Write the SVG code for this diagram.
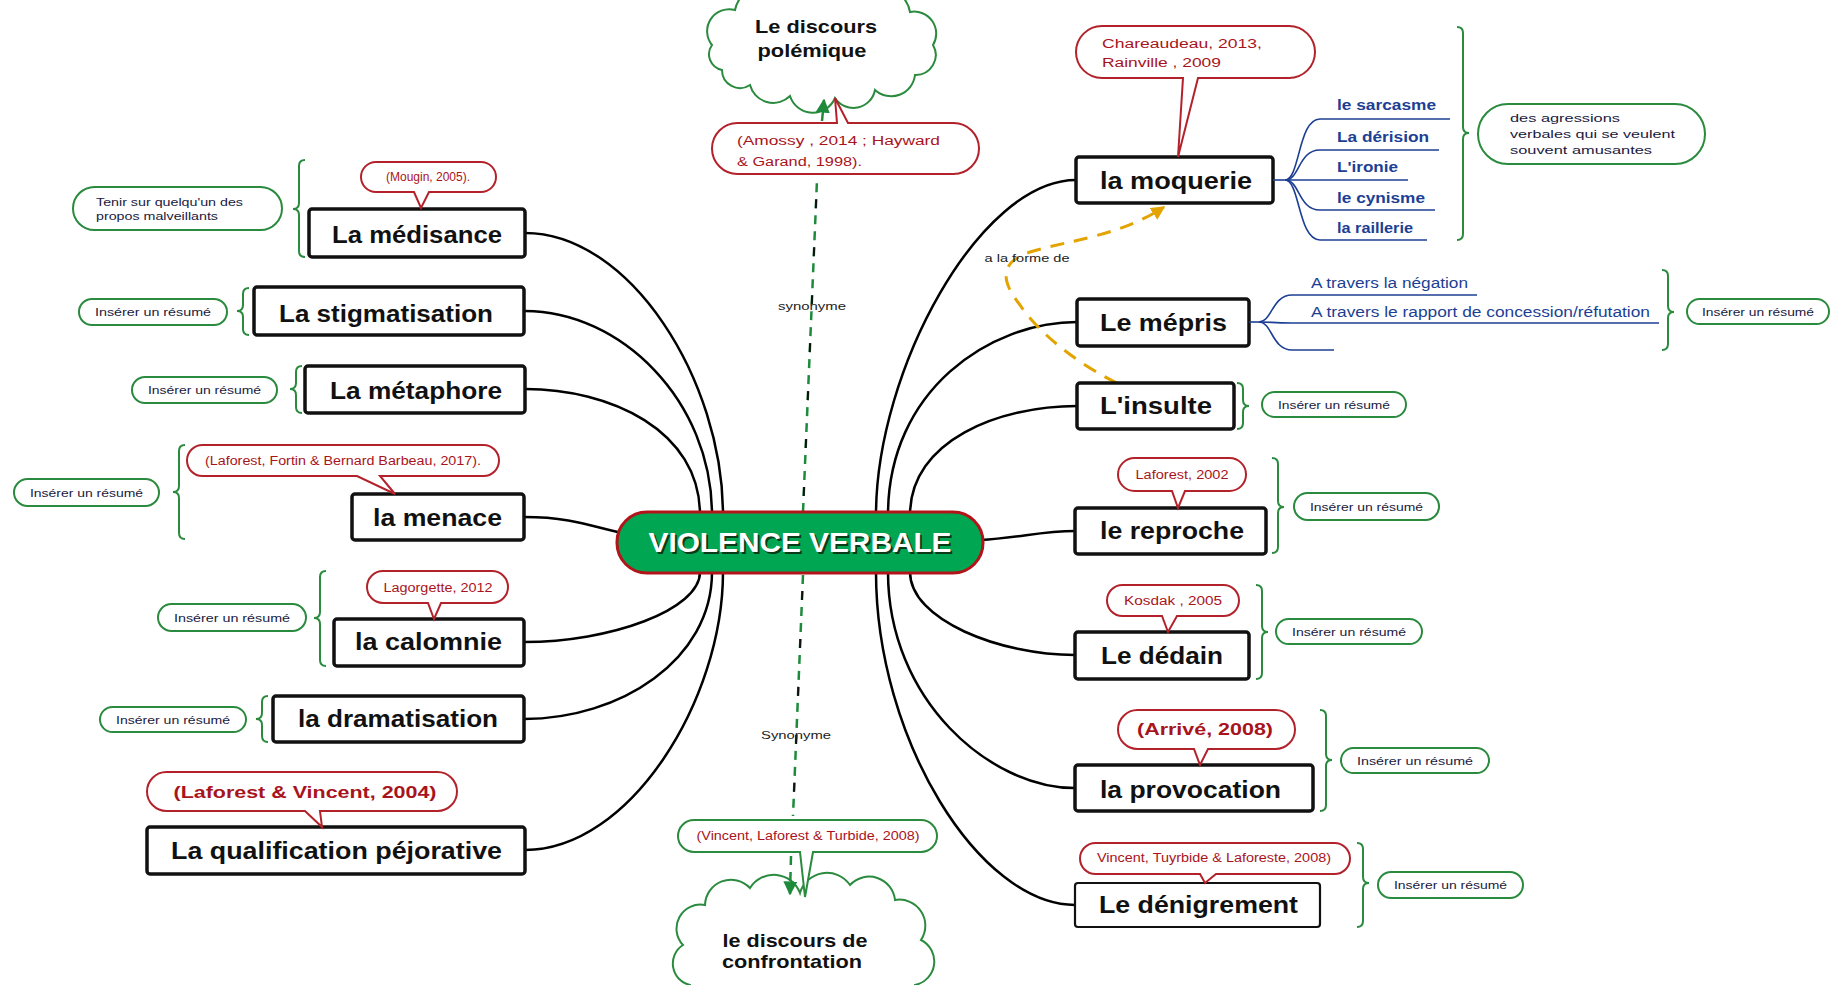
<svg xmlns="http://www.w3.org/2000/svg" width="1831" height="985" viewBox="0 0 1831 985">
<style>
.box{fill:#fff;stroke:#111;stroke-width:3.5}
.nt{font-family:"Liberation Sans",Arial,sans-serif;font-weight:bold;font-size:23px;fill:#111}
.con{fill:none;stroke:#000;stroke-width:2.5}
.dg{fill:none;stroke:#1e8a3c;stroke-width:2.5;stroke-dasharray:9 7}
.dk{fill:none;stroke:#111;stroke-width:2;stroke-dasharray:9 39}
.call{fill:#fff;stroke:#b3222a;stroke-width:2}
.callg{fill:#fff;stroke:#2a8a3e;stroke-width:2}
.ct{font-family:"Liberation Sans",Arial,sans-serif;font-size:12px;fill:#a8141c}
.ctb{font-family:"Liberation Sans",Arial,sans-serif;font-size:17px;font-weight:bold;fill:#a8141c}
.pill{fill:#fff;stroke:#2a8a3e;stroke-width:2}
.pt{font-family:"Liberation Sans",Arial,sans-serif;font-size:11px;fill:#1a1a40}
.brace{fill:none;stroke:#2a8a3e;stroke-width:2}
.blue{fill:none;stroke:#1c3f94;stroke-width:1.6}
.bt{font-family:"Liberation Sans",Arial,sans-serif;font-size:14px;font-weight:bold;fill:#1c3f94}
.bt2{font-family:"Liberation Sans",Arial,sans-serif;font-size:14px;fill:#1c3f94}
.cloud{fill:#fff;stroke:#2a8a3e;stroke-width:2}
.clt{font-family:"Liberation Sans",Arial,sans-serif;font-size:19px;font-weight:bold;fill:#111;text-anchor:middle}
.lbl{font-family:"Liberation Sans",Arial,sans-serif;font-size:11px;fill:#222}
</style>
<defs>
<marker id="ag" viewBox="0 0 10 10" refX="9" refY="5" markerWidth="14" markerHeight="14" markerUnits="userSpaceOnUse" orient="auto"><path d="M0,0 L10,5 L0,10 Z" fill="#1e8a3c"/></marker>
<marker id="ao" viewBox="0 0 10 10" refX="9" refY="5" markerWidth="14" markerHeight="14" markerUnits="userSpaceOnUse" orient="auto"><path d="M0,0 L10,5 L0,10 Z" fill="#e3a300"/></marker>
</defs>
<rect width="1831" height="985" fill="#fff"/>

<g id="cloud-polemique">
<path class="cloud" d="M712,45 A22,22 0 0 1 735,10 A32,32 0 0 1 790,-5 A38,38 0 0 1 860,-5 A30,30 0 0 1 910,12 A22,22 0 0 1 933,45 A20,20 0 0 1 915,75 A24,24 0 0 1 875,90 A22,22 0 0 1 835,98 A24,24 0 0 1 790,96 A24,24 0 0 1 750,85 A18,18 0 0 1 722,70 A16,16 0 0 1 712,45 Z"/>
<text class="clt" x="816" y="33" textLength="122" lengthAdjust="spacingAndGlyphs">Le discours</text>
<text class="clt" x="812" y="57" textLength="109" lengthAdjust="spacingAndGlyphs">polémique</text>
</g>
<g id="callout-amossy">
<path class="call" d="M737.5,123 H837 L835,98 L848,123 H953.5 A25.5,25.5 0 0 1 953.5,174 H737.5 A25.5,25.5 0 0 1 737.5,123 Z"/>
<text class="ct" x="737" y="145" font-size="14" textLength="203" lengthAdjust="spacingAndGlyphs">(Amossy , 2014 ; Hayward</text>
<text class="ct" x="737" y="166" font-size="14" textLength="125" lengthAdjust="spacingAndGlyphs">&amp; Garand, 1998).</text>
</g>

<g id="cloud-confrontation">
<path class="cloud" d="M683,945 A24,24 0 0 1 705,905 A26,26 0 0 1 750,888 A28,28 0 0 1 800,893 A28,28 0 0 1 850,885 A26,26 0 0 1 895,900 A26,26 0 0 1 921,940 A24,24 0 0 1 915,985 L915,1000 L690,1000 L690,985 A22,22 0 0 1 683,945 Z"/>
<text class="clt" x="795" y="947" textLength="145" lengthAdjust="spacingAndGlyphs">le discours de</text>
<text class="clt" x="792" y="968" textLength="140" lengthAdjust="spacingAndGlyphs">confrontation</text>
</g>
<g id="callout-vincent">
<path class="callg" d="M694,820 H921 A16,16 0 0 1 921,852 H813 L805,897 L800,852 H694 A16,16 0 0 1 694,820 Z"/>
<text class="ct" x="808" y="840" text-anchor="middle" textLength="223" lengthAdjust="spacingAndGlyphs">(Vincent, Laforest &amp; Turbide, 2008)</text>
</g>

<g id="connectors">
<path class="con" d="M525,233 C630,233 723,380 723,515"/>
<path class="con" d="M525,311 C620,311 712,400 712,515"/>
<path class="con" d="M525,389 C610,389 700,430 700,515"/>
<path class="con" d="M524,517 C575,517 595,528 622,533"/>
<path class="con" d="M524,642 C610,642 700,610 700,572"/>
<path class="con" d="M524,719 C620,719 712,660 712,572"/>
<path class="con" d="M525,850 C630,850 723,700 723,572"/>
<path class="con" d="M1076,180 C980,180 876,370 876,515"/>
<path class="con" d="M1077,322 C990,322 888,390 888,515"/>
<path class="con" d="M1077,406 C1000,406 910,440 910,515"/>
<path class="con" d="M980,540 C1020,538 1040,531 1075,531"/>
<path class="con" d="M1075,655 C1000,655 910,620 910,572"/>
<path class="con" d="M1075,788 C990,788 888,700 888,572"/>
<path class="con" d="M1075,905 C980,905 876,740 876,572"/>
<path class="dg" d="M803,512 L817,180"/>
<path class="dk" d="M803,512 L817,180" stroke-dashoffset="-16"/>
<path d="M822,121 L824,100" fill="none" stroke="#1e8a3c" stroke-width="2.5" marker-end="url(#ag)"/>
<path class="dg" d="M803,575 L793,816"/>
<path class="dk" d="M803,575 L793,816" stroke-dashoffset="-16"/>
<path class="dg" d="M791,856 L790,894" marker-end="url(#ag)"/>
<path d="M1117,383 C1080,365 1040,335 1020,305 C1000,280 1000,262 1030,252 C1070,240 1120,236 1164,207" fill="none" stroke="#e3a300" stroke-width="3" stroke-dasharray="14 10" marker-end="url(#ao)"/>
<text class="lbl" x="812" y="310" text-anchor="middle" textLength="68" lengthAdjust="spacingAndGlyphs">synonyme</text>
<text class="lbl" x="796" y="739" text-anchor="middle" textLength="70" lengthAdjust="spacingAndGlyphs">Synonyme</text>
<text class="lbl" x="1027" y="262" text-anchor="middle" textLength="85" lengthAdjust="spacingAndGlyphs">a la forme de</text>
</g>

<g id="center">
<rect x="617" y="512" width="366" height="61" rx="30" fill="#00a651" stroke="#b3141a" stroke-width="3"/>
<text x="802" y="554" text-anchor="middle" font-family="Liberation Sans, Arial, sans-serif" font-weight="bold" font-size="28" fill="#0a3a18" textLength="303" lengthAdjust="spacingAndGlyphs">VIOLENCE VERBALE</text>
<text x="800" y="552" text-anchor="middle" font-family="Liberation Sans, Arial, sans-serif" font-weight="bold" font-size="28" fill="#fff" textLength="303" lengthAdjust="spacingAndGlyphs">VIOLENCE VERBALE</text>
</g>

<g id="n-medisance">
<rect class="box" x="309" y="209" width="216" height="48" rx="3"/>
<text class="nt" x="332" y="243" textLength="170" lengthAdjust="spacingAndGlyphs">La médisance</text>
<path class="call" d="M376,162 H481 A15,15 0 0 1 481,192 H429 L421,208 L414,192 H376 A15,15 0 0 1 376,162 Z"/>
<text class="ct" x="428" y="181" font-size="11" text-anchor="middle" textLength="84" lengthAdjust="spacingAndGlyphs">(Mougin, 2005).</text>
<path class="brace" d="M305,160 Q299,160 299,166 V203 Q299,209 293,209 Q299,209 299,215 V251 Q299,257 305,257"/>
<rect class="pill" x="73" y="187" width="209" height="43" rx="21.5"/>
<text class="pt" x="96" y="206" textLength="147" lengthAdjust="spacingAndGlyphs">Tenir sur quelqu'un des</text>
<text class="pt" x="96" y="220" textLength="122" lengthAdjust="spacingAndGlyphs">propos malveillants</text>
</g>

<g id="n-stigmatisation">
<rect class="box" x="254" y="287" width="270" height="48" rx="3"/>
<text class="nt" x="279" y="322" textLength="214" lengthAdjust="spacingAndGlyphs">La stigmatisation</text>
<path class="brace" d="M249,288 Q243,288 243,294 V305 Q243,311 237,311 Q243,311 243,317 V329 Q243,335 249,335"/>
<rect class="pill" x="79" y="299" width="148" height="26" rx="13"/>
<text class="pt" x="153" y="316" text-anchor="middle" textLength="116" lengthAdjust="spacingAndGlyphs">Insérer un résumé</text>
</g>

<g id="n-metaphore">
<rect class="box" x="305" y="366" width="220" height="47" rx="3"/>
<text class="nt" x="330" y="399" textLength="172" lengthAdjust="spacingAndGlyphs">La métaphore</text>
<path class="brace" d="M302,366 Q296,366 296,372 V383 Q296,389 290,389 Q296,389 296,395 V407 Q296,413 302,413"/>
<rect class="pill" x="132" y="377" width="145" height="26" rx="13"/>
<text class="pt" x="204.5" y="394" text-anchor="middle" textLength="113" lengthAdjust="spacingAndGlyphs">Insérer un résumé</text>
</g>

<g id="n-menace">
<rect class="box" x="352" y="494" width="172" height="46" rx="3"/>
<text class="nt" x="373" y="526" textLength="129" lengthAdjust="spacingAndGlyphs">la menace</text>
<path class="call" d="M202.5,445 H483.5 A15.5,15.5 0 0 1 483.5,476 H380 L395,494 L357,476 H202.5 A15.5,15.5 0 0 1 202.5,445 Z"/>
<text class="ct" x="343" y="465" font-size="11" text-anchor="middle" textLength="276" lengthAdjust="spacingAndGlyphs">(Laforest, Fortin &amp; Bernard Barbeau, 2017).</text>
<path class="brace" d="M185,445 Q179,445 179,451 V486 Q179,492 173,492 Q179,492 179,498 V533 Q179,539 185,539"/>
<rect class="pill" x="14" y="479" width="145" height="27" rx="13.5"/>
<text class="pt" x="86.5" y="497" text-anchor="middle" textLength="113" lengthAdjust="spacingAndGlyphs">Insérer un résumé</text>
</g>

<g id="n-calomnie">
<rect class="box" x="334" y="619" width="190" height="47" rx="3"/>
<text class="nt" x="355" y="650" textLength="147" lengthAdjust="spacingAndGlyphs">la calomnie</text>
<path class="call" d="M383,571 H492 A16,16 0 0 1 492,603 H441 L434,619 L428,603 H383 A16,16 0 0 1 383,571 Z"/>
<text class="ct" x="438" y="592" font-size="12" text-anchor="middle" textLength="109" lengthAdjust="spacingAndGlyphs">Lagorgette, 2012</text>
<path class="brace" d="M326,571 Q320,571 320,577 V612 Q320,618 314,618 Q320,618 320,624 V660 Q320,666 326,666"/>
<rect class="pill" x="158" y="604" width="148" height="27" rx="13.5"/>
<text class="pt" x="232" y="622" text-anchor="middle" textLength="116" lengthAdjust="spacingAndGlyphs">Insérer un résumé</text>
</g>

<g id="n-dramatisation">
<rect class="box" x="273" y="696" width="251" height="46" rx="3"/>
<text class="nt" x="298" y="727" textLength="200" lengthAdjust="spacingAndGlyphs">la dramatisation</text>
<path class="brace" d="M268,696 Q262,696 262,702 V713 Q262,719 256,719 Q262,719 262,725 V736 Q262,742 268,742"/>
<rect class="pill" x="100" y="707" width="146" height="25" rx="12.5"/>
<text class="pt" x="173" y="724" text-anchor="middle" textLength="114" lengthAdjust="spacingAndGlyphs">Insérer un résumé</text>
</g>

<g id="n-qualification">
<rect class="box" x="147" y="827" width="378" height="47" rx="3"/>
<text class="nt" x="171" y="859" textLength="331" lengthAdjust="spacingAndGlyphs">La qualification péjorative</text>
<path class="call" d="M166.5,772 H437.5 A19.5,19.5 0 0 1 437.5,811 H320 L322,827 L305,811 H166.5 A19.5,19.5 0 0 1 166.5,772 Z"/>
<text class="ctb" x="305" y="798" text-anchor="middle" textLength="263" lengthAdjust="spacingAndGlyphs">(Laforest &amp; Vincent, 2004)</text>
</g>

<g id="n-moquerie">
<rect class="box" x="1076" y="157" width="197" height="46" rx="3"/>
<text class="nt" x="1100" y="189" textLength="152" lengthAdjust="spacingAndGlyphs">la moquerie</text>
<path class="call" d="M1102,26 H1289 A26,26 0 0 1 1289,78 H1198 L1178,157 L1183,78 H1102 A26,26 0 0 1 1102,26 Z"/>
<text class="ct" x="1102" y="48" font-size="15" textLength="160" lengthAdjust="spacingAndGlyphs">Chareaudeau, 2013,</text>
<text class="ct" x="1102" y="67" font-size="15" textLength="119" lengthAdjust="spacingAndGlyphs">Rainville , 2009</text>
<path class="blue" d="M1273,180 H1285"/>
<path class="blue" d="M1285,180 C1300,180 1298,119 1320,119 H1450"/>
<path class="blue" d="M1285,180 C1300,180 1298,150 1320,150 H1439"/>
<path class="blue" d="M1285,180 H1408"/>
<path class="blue" d="M1285,180 C1300,180 1298,210 1320,210 H1435"/>
<path class="blue" d="M1285,180 C1300,180 1298,240 1320,240 H1427"/>
<text class="bt" x="1337" y="110" textLength="99" lengthAdjust="spacingAndGlyphs">le sarcasme</text>
<text class="bt" x="1337" y="142" textLength="92" lengthAdjust="spacingAndGlyphs">La dérision</text>
<text class="bt" x="1337" y="172" textLength="61" lengthAdjust="spacingAndGlyphs">L'ironie</text>
<text class="bt" x="1337" y="203" textLength="88" lengthAdjust="spacingAndGlyphs">le cynisme</text>
<text class="bt" x="1337" y="233" textLength="76" lengthAdjust="spacingAndGlyphs">la raillerie</text>
<path class="brace" d="M1457,27 Q1463,27 1463,33 V127 Q1463,133 1469,133 Q1463,133 1463,139 V234 Q1463,240 1457,240"/>
<rect class="pill" x="1478" y="104" width="227" height="60" rx="30"/>
<text class="pt" x="1510" y="122" font-size="12" textLength="110" lengthAdjust="spacingAndGlyphs">des agressions</text>
<text class="pt" x="1510" y="138" font-size="12" textLength="165" lengthAdjust="spacingAndGlyphs">verbales qui se veulent</text>
<text class="pt" x="1510" y="154" font-size="12" textLength="142" lengthAdjust="spacingAndGlyphs">souvent amusantes</text>
</g>

<g id="n-mepris">
<rect class="box" x="1077" y="299" width="172" height="47" rx="3"/>
<text class="nt" x="1100" y="331" textLength="127" lengthAdjust="spacingAndGlyphs">Le mépris</text>
<path class="blue" d="M1249,322 H1259"/>
<path class="blue" d="M1259,322 C1272,322 1272,295 1292,295 H1477"/>
<path class="blue" d="M1259,322 C1272,322 1272,323 1292,323 H1659"/>
<path class="blue" d="M1259,322 C1272,322 1272,350 1292,350 H1334"/>
<text class="bt2" x="1311" y="288" textLength="157" lengthAdjust="spacingAndGlyphs">A travers la négation</text>
<text class="bt2" x="1311" y="317" textLength="339" lengthAdjust="spacingAndGlyphs">A travers le rapport de concession/réfutation</text>
<path class="brace" d="M1662,270 Q1668,270 1668,276 V306 Q1668,312 1674,312 Q1668,312 1668,318 V344 Q1668,350 1662,350"/>
<rect class="pill" x="1687" y="299" width="142" height="25" rx="12.5"/>
<text class="pt" x="1758" y="316" text-anchor="middle" textLength="112" lengthAdjust="spacingAndGlyphs">Insérer un résumé</text>
</g>

<g id="n-insulte">
<rect class="box" x="1077" y="383" width="157" height="46" rx="3"/>
<text class="nt" x="1100" y="414" textLength="112" lengthAdjust="spacingAndGlyphs">L'insulte</text>
<path class="brace" d="M1237,383 Q1243,383 1243,389 V400 Q1243,406 1249,406 Q1243,406 1243,412 V423 Q1243,429 1237,429"/>
<rect class="pill" x="1262" y="392" width="144" height="25" rx="12.5"/>
<text class="pt" x="1334" y="409" text-anchor="middle" textLength="112" lengthAdjust="spacingAndGlyphs">Insérer un résumé</text>
</g>

<g id="n-reproche">
<rect class="box" x="1075" y="508" width="191" height="46" rx="3"/>
<text class="nt" x="1100" y="539" textLength="144" lengthAdjust="spacingAndGlyphs">le reproche</text>
<path class="call" d="M1134.5,458 H1229.5 A16.5,16.5 0 0 1 1229.5,491 H1185 L1178,508 L1172,491 H1134.5 A16.5,16.5 0 0 1 1134.5,458 Z"/>
<text class="ct" x="1182" y="479" font-size="12" text-anchor="middle" textLength="93" lengthAdjust="spacingAndGlyphs">Laforest, 2002</text>
<path class="brace" d="M1272,458 Q1278,458 1278,464 V501 Q1278,507 1284,507 Q1278,507 1278,513 V547 Q1278,553 1272,553"/>
<rect class="pill" x="1294" y="493" width="145" height="27" rx="13.5"/>
<text class="pt" x="1366.5" y="511" text-anchor="middle" textLength="113" lengthAdjust="spacingAndGlyphs">Insérer un résumé</text>
</g>

<g id="n-dedain">
<rect class="box" x="1075" y="632" width="174" height="47" rx="3"/>
<text class="nt" x="1101" y="664" textLength="122" lengthAdjust="spacingAndGlyphs">Le dédain</text>
<path class="call" d="M1122.5,585 H1223.5 A15.5,15.5 0 0 1 1223.5,616 H1177 L1168,632 L1162,616 H1122.5 A15.5,15.5 0 0 1 1122.5,585 Z"/>
<text class="ct" x="1173" y="605" font-size="12" text-anchor="middle" textLength="98" lengthAdjust="spacingAndGlyphs">Kosdak , 2005</text>
<path class="brace" d="M1256,585 Q1262,585 1262,591 V626 Q1262,632 1268,632 Q1262,632 1262,638 V673 Q1262,679 1256,679"/>
<rect class="pill" x="1276" y="619" width="146" height="25" rx="12.5"/>
<text class="pt" x="1349" y="636" text-anchor="middle" textLength="114" lengthAdjust="spacingAndGlyphs">Insérer un résumé</text>
</g>

<g id="n-provocation">
<rect class="box" x="1075" y="765" width="238" height="46" rx="3"/>
<text class="nt" x="1100" y="798" textLength="181" lengthAdjust="spacingAndGlyphs">la provocation</text>
<path class="call" d="M1137.5,710 H1275.5 A19.5,19.5 0 0 1 1275.5,749 H1208 L1200,765 L1194,749 H1137.5 A19.5,19.5 0 0 1 1137.5,710 Z"/>
<text class="ctb" x="1205" y="735" text-anchor="middle" textLength="136" lengthAdjust="spacingAndGlyphs">(Arrivé, 2008)</text>
<path class="brace" d="M1320,710 Q1326,710 1326,716 V754 Q1326,760 1332,760 Q1326,760 1326,766 V805 Q1326,811 1320,811"/>
<rect class="pill" x="1341" y="748" width="148" height="25" rx="12.5"/>
<text class="pt" x="1415" y="765" text-anchor="middle" textLength="116" lengthAdjust="spacingAndGlyphs">Insérer un résumé</text>
</g>

<g id="n-denigrement">
<rect x="1075" y="883" width="245" height="44" rx="3" fill="#fff" stroke="#111" stroke-width="2.2"/>
<text class="nt" x="1099" y="913" textLength="199" lengthAdjust="spacingAndGlyphs">Le dénigrement</text>
<path class="call" d="M1095.5,843 H1334.5 A15.5,15.5 0 0 1 1334.5,874 H1216 L1205,883 L1200,874 H1095.5 A15.5,15.5 0 0 1 1095.5,843 Z"/>
<text class="ct" x="1214" y="862" font-size="11" text-anchor="middle" textLength="234" lengthAdjust="spacingAndGlyphs">Vincent, Tuyrbide &amp; Laforeste, 2008)</text>
<path class="brace" d="M1357,843 Q1363,843 1363,849 V877 Q1363,883 1369,883 Q1363,883 1363,889 V921 Q1363,927 1357,927"/>
<rect class="pill" x="1378" y="872" width="145" height="26" rx="13"/>
<text class="pt" x="1450.5" y="889" text-anchor="middle" textLength="113" lengthAdjust="spacingAndGlyphs">Insérer un résumé</text>
</g>
</svg>
